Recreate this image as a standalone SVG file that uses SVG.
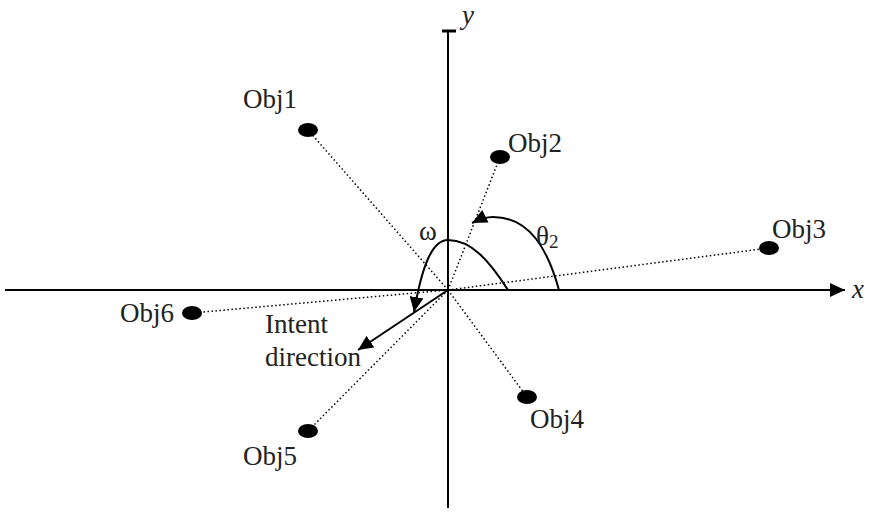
<svg xmlns="http://www.w3.org/2000/svg" width="869" height="519" viewBox="0 0 869 519">
<style>
  .lbl { font-family: "Liberation Serif", "Times New Roman", serif; font-size: 27px; fill: #222; }
  .it { font-style: italic; }
  .axis { stroke: #000; stroke-width: 2; fill: none; }
  .dot { stroke: #000; stroke-width: 1.5; stroke-dasharray: 1.5 2.5; fill: none; }
  .arc { stroke: #000; stroke-width: 2; fill: none; }
  .obj { fill: #000; }
</style>
<defs>
  <marker id="ah" markerUnits="userSpaceOnUse" markerWidth="16" markerHeight="14" refX="15" refY="7" orient="auto">
    <path d="M0,0 L15,7 L0,14 Z" fill="#000"/>
  </marker>
</defs>
<rect width="869" height="519" fill="#fff"/>
<g id="connectors">
  <line class="axis" x1="5" y1="290" x2="845" y2="290" marker-end="url(#ah)"/>
  <line class="axis" x1="448" y1="508" x2="448" y2="31"/>
  <line x1="442" y1="31" x2="456" y2="31" stroke="#000" stroke-width="3"/>
  <line class="dot" x1="448" y1="290" x2="308" y2="130"/>
  <line class="dot" x1="448" y1="290" x2="500" y2="157"/>
  <line class="dot" x1="448" y1="290" x2="769" y2="248"/>
  <line class="dot" x1="448" y1="290" x2="527" y2="397"/>
  <line class="dot" x1="448" y1="290" x2="308" y2="431"/>
  <line class="dot" x1="448" y1="290" x2="192" y2="313"/>
  <path class="arc" d="M508,290 C490,262 472,240 448,240 C432,240 422,266 414,312" marker-end="url(#ah)"/>
  <path class="arc" d="M559,290 C548,250 530,217 493,217 C485,217 478,220 472,223" marker-end="url(#ah)"/>
  <line class="arc" x1="448" y1="290" x2="358" y2="350" marker-end="url(#ah)"/>
</g>
<g id="obj1"><ellipse class="obj" cx="308" cy="130" rx="10" ry="7"/><text class="lbl" x="243" y="108">Obj1</text></g>
<g id="obj2"><ellipse class="obj" cx="500" cy="157" rx="10" ry="7"/><text class="lbl" x="508" y="152">Obj2</text></g>
<g id="obj3"><ellipse class="obj" cx="769" cy="248" rx="10" ry="7"/><text class="lbl" x="772" y="238">Obj3</text></g>
<g id="obj4"><ellipse class="obj" cx="527" cy="397" rx="10" ry="7"/><text class="lbl" x="530" y="428">Obj4</text></g>
<g id="obj5"><ellipse class="obj" cx="308" cy="431" rx="10" ry="7"/><text class="lbl" x="243" y="465">Obj5</text></g>
<g id="obj6"><ellipse class="obj" cx="192" cy="313" rx="10" ry="7"/><text class="lbl" x="120" y="322">Obj6</text></g>
<g id="labels">
  <text class="lbl it" x="462" y="24" font-size="26">y</text>
  <text class="lbl it" x="852" y="298">x</text>
  <text class="lbl" x="419" y="240">ω</text>
  <text class="lbl" x="536" y="245">θ<tspan font-size="19" dy="3">2</tspan></text>
  <text class="lbl" x="265" y="333">Intent</text>
  <text class="lbl" x="265" y="366">direction</text>
</g>
</svg>
